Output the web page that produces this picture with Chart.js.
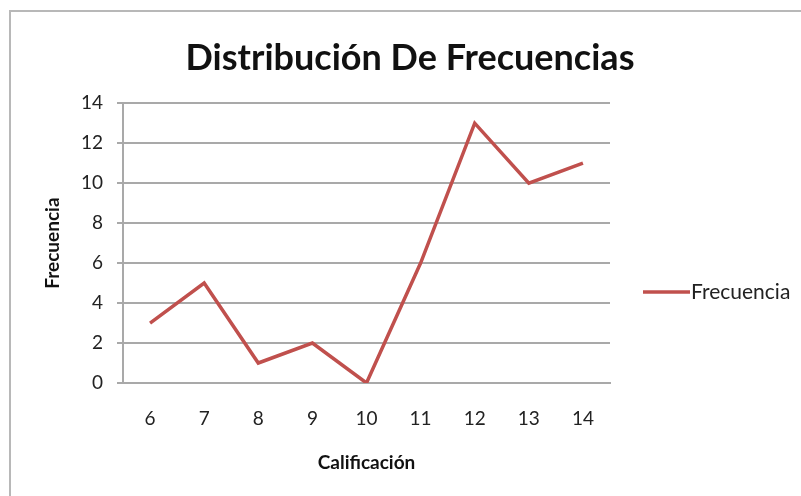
<!DOCTYPE html>
<html>
<head>
<meta charset="utf-8">
<script src="https://cdn.jsdelivr.net/npm/chart.js@4.4.1/dist/chart.umd.min.js"></script>
<style>
  html, body { margin: 0; padding: 0; background: #fff; }
  #wrap { position: relative; width: 801px; height: 496px; overflow: hidden; }
  #frame { position: absolute; left: 9px; top: 10px; width: 900px; height: 600px;
           border-left: 2px solid #b8b8b8; border-top: 2px solid #b8b8b8; pointer-events: none; }
</style>
</head>
<body>
<div id="wrap">
  <canvas id="chart"></canvas>
  <div id="frame"></div>
</div>
<script>
  const categories = ['6', '7', '8', '9', '10', '11', '12', '13', '14'];
  const frecuencia = [3, 5, 1, 2, 0, 6, 13, 10, 11];
  const yTicks = [0, 2, 4, 6, 8, 10, 12, 14];

  const LINE_COLOR = '#c0504d';
  const GRID_COLOR = '#a9a9a9';
  const FONT = 'Lato, "Open Sans", sans-serif';

  // legend drawn at the right, beside the plot
  const sideLegend = {
    id: 'sideLegend',
    afterDraw(chart) {
      const ctx = chart.ctx;
      const y = 292;
      ctx.save();
      ctx.strokeStyle = LINE_COLOR;
      ctx.lineWidth = 3.5;
      ctx.beginPath();
      ctx.moveTo(643, y);
      ctx.lineTo(690, y);
      ctx.stroke();
      ctx.fillStyle = '#222';
      ctx.font = '21px ' + FONT;
      ctx.textBaseline = 'middle';
      ctx.textAlign = 'left';
      ctx.fillText(chart.data.datasets[0].label, 691, y);
      ctx.restore();
    }
  };

  new Chart(document.getElementById('chart'), {
    type: 'line',
    data: {
      labels: categories,
      datasets: [{
        label: 'Frecuencia',
        data: frecuencia,
        borderColor: LINE_COLOR,
        backgroundColor: LINE_COLOR,
        borderWidth: 3.5,
        pointRadius: 0,
        tension: 0,
      }],
    },
    options: {
      responsive: true,
      maintainAspectRatio: false,
      animation: false,
      layout: { padding: { left: 19, top: 10, right: 0, bottom: 0 } },
      plugins: {
        legend: { display: false },
        tooltip: { enabled: false },
        title: {
          display: true,
          text: 'Distribución De Frecuencias',
          color: '#111',
          font: { family: FONT, size: 36, weight: 'bold', lineHeight: 1.2 },
          padding: { top: 27, bottom: 23 },
        },
      },
      scales: {
        x: {
          offset: true,
          grid: { display: false, drawTicks: false },
          border: { display: true, color: GRID_COLOR, width: 2 },
          ticks: { color: '#222', font: { family: FONT, size: 19 }, padding: 24, maxRotation: 0 },
          title: {
            display: true,
            text: 'Calificación',
            color: '#111',
            font: { family: FONT, size: 19, weight: 'bold', lineHeight: 1.2 },
            padding: { top: 0, bottom: 22 },
          },
          afterFit(scale) { scale.height = 113; },
        },
        y: {
          min: 0,
          max: 14,
          afterBuildTicks(scale) { scale.ticks = yTicks.map(v => ({ value: v })); },
          grid: { color: GRID_COLOR, lineWidth: 2, tickLength: 6 },
          border: { display: true, color: GRID_COLOR, width: 2 },
          ticks: { color: '#222', font: { family: FONT, size: 19 }, padding: 14 },
          title: {
            display: true,
            text: 'Frecuencia',
            color: '#111',
            font: { family: FONT, size: 19, weight: 'bold', lineHeight: 1.2 },
            padding: { top: 22, bottom: 0 },
          },
          afterFit(scale) { scale.width = 104; },
        },
        // empty right-hand scale that reserves room for the legend
        side: {
          type: 'linear',
          position: 'right',
          display: true,
          grid: { display: false, drawTicks: false },
          border: { display: false },
          ticks: { display: false },
          afterFit(scale) { scale.width = 191; },
        },
      },
    },
    plugins: [sideLegend],
  });
</script>
</body>
</html>
